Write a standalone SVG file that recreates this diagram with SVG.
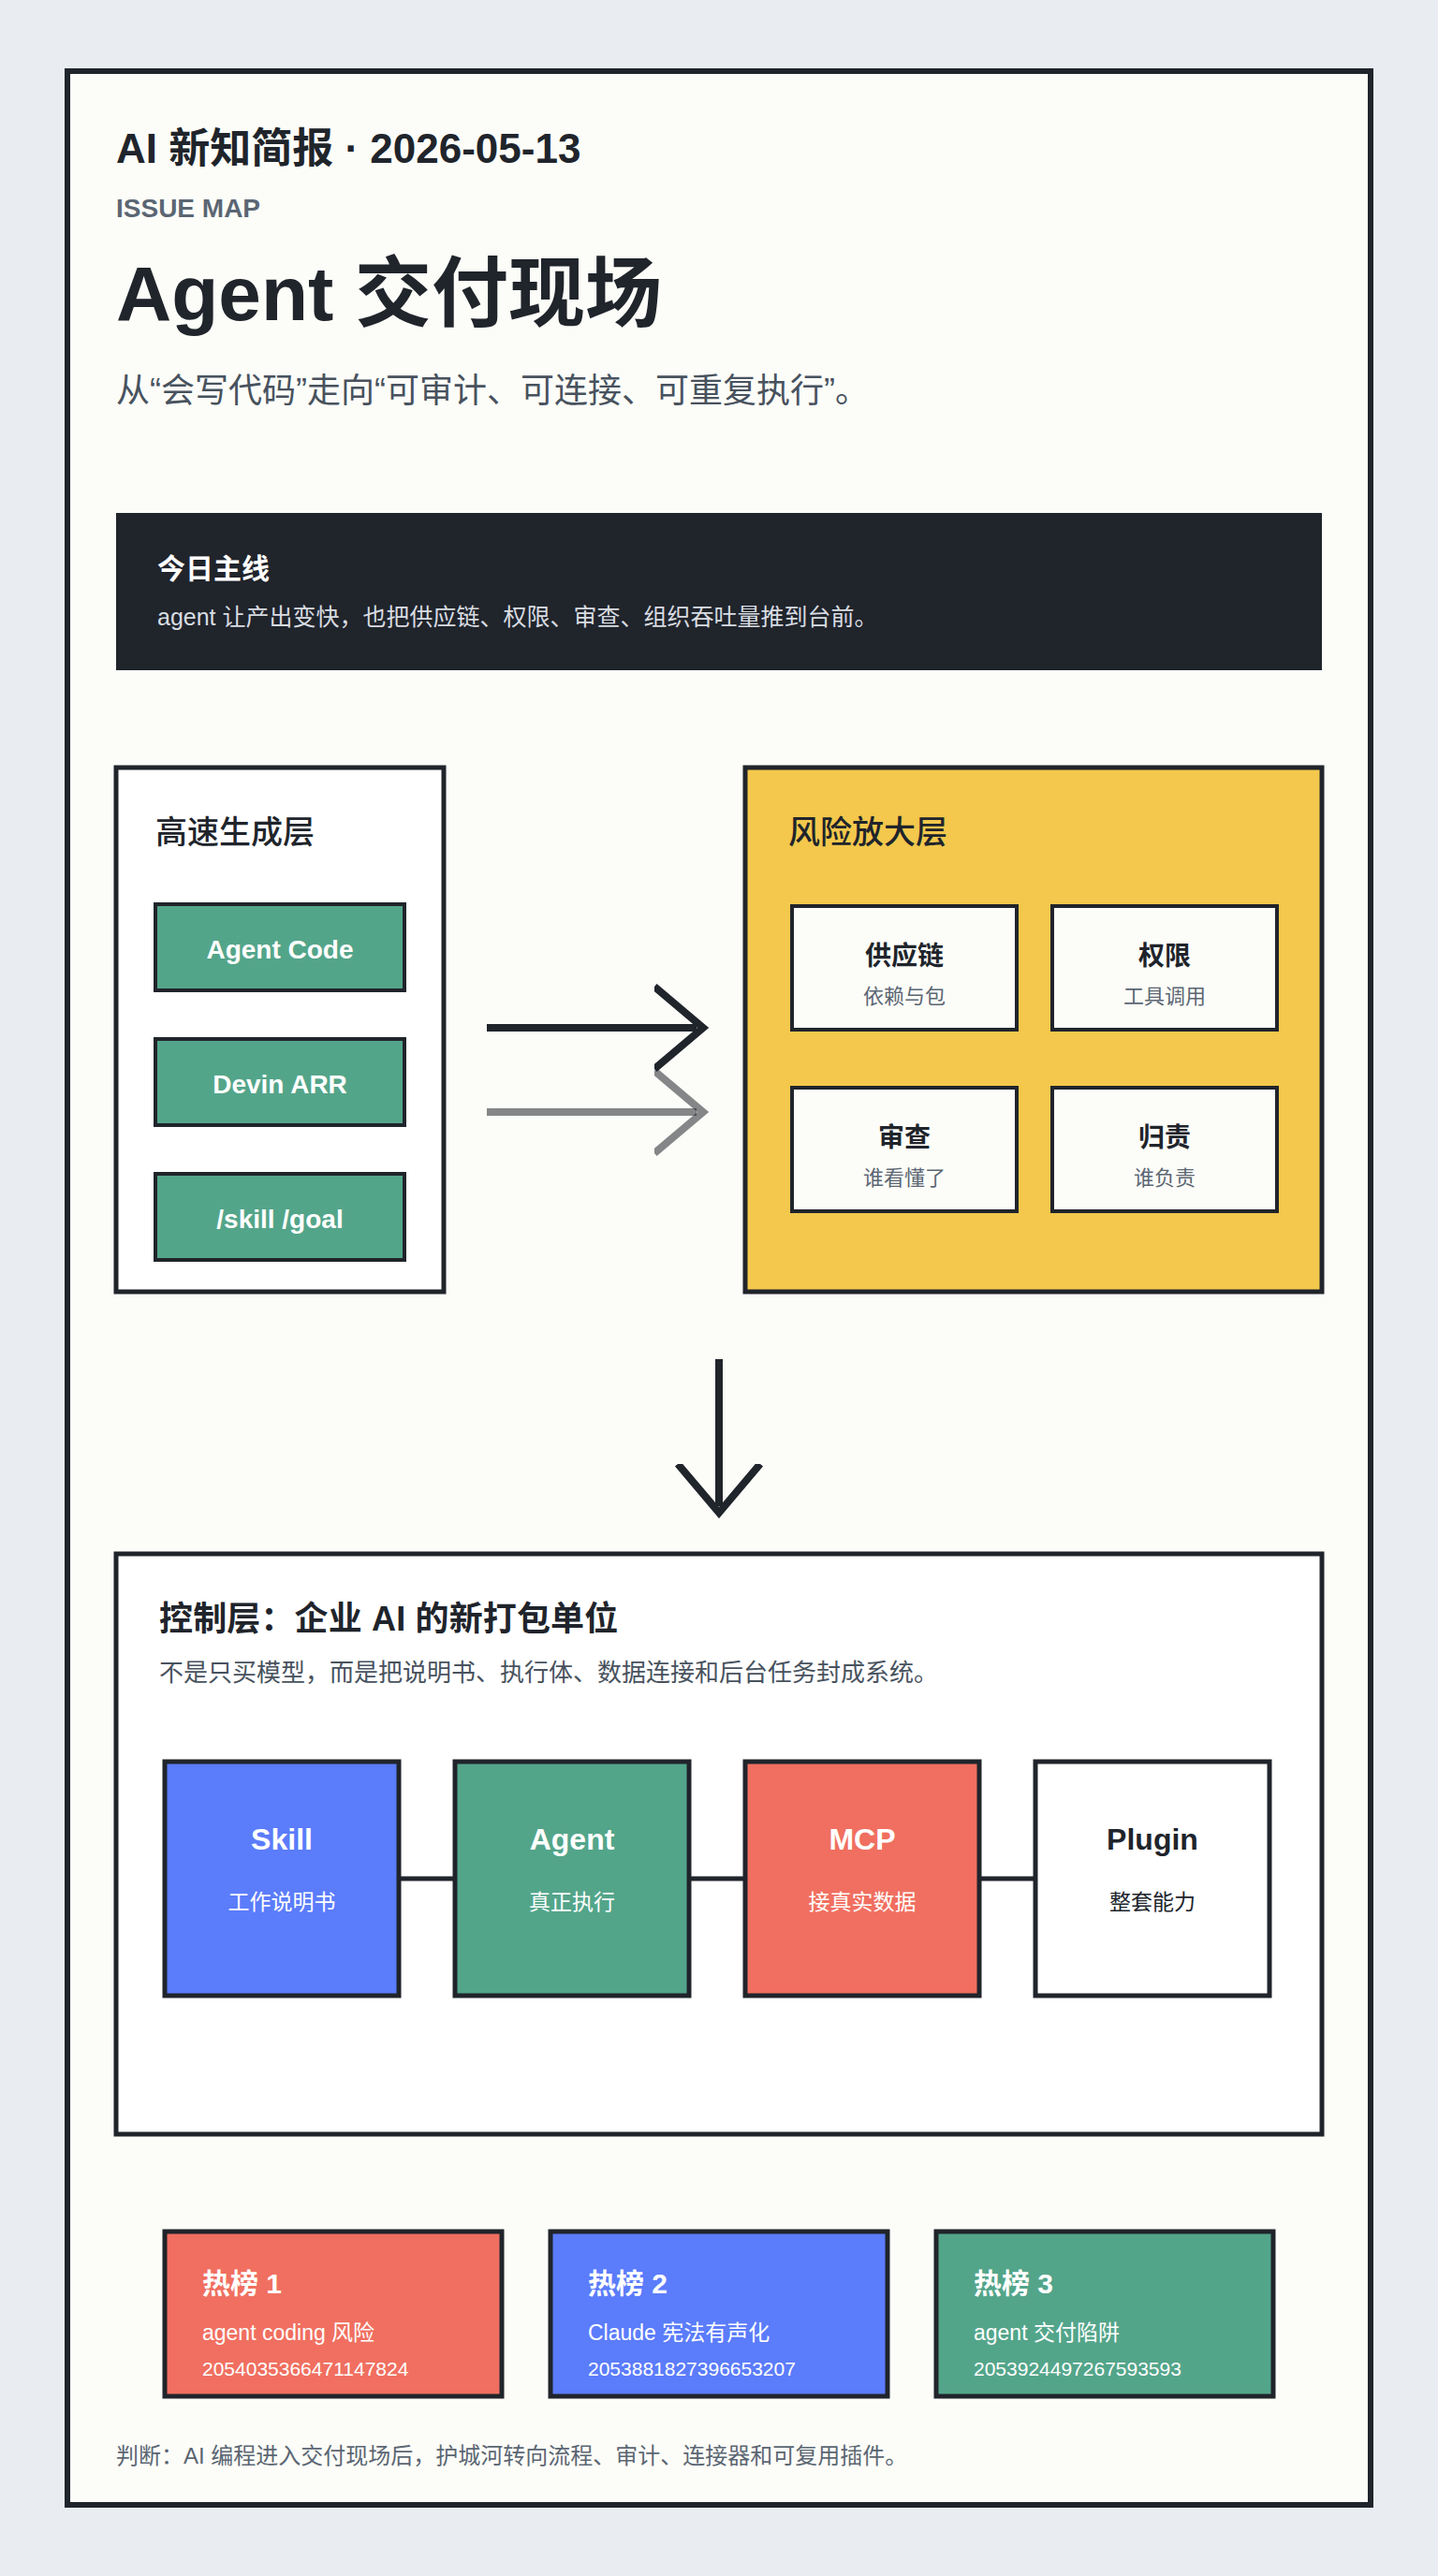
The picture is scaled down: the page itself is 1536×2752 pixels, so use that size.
<svg xmlns="http://www.w3.org/2000/svg" width="1536" height="2752" viewBox="0 0 1536 2752">
<style>
text{font-family:"Liberation Sans","Noto Sans CJK SC",sans-serif;fill:#20242b}
.b{font-weight:700}.t{font-weight:500}.m{text-anchor:middle}.w{fill:#fff}
.box{stroke:#20242b;stroke-width:5}
.in{stroke:#20242b;stroke-width:4}
.g{fill:#53a58a}.y{fill:#f3c84c}.r{fill:#f06f60}.u{fill:#5b7cfb}.c{fill:#fcfdf8}.n{fill:#fff}
.s{fill:#5b6673}
.line{stroke:#20242b;stroke-width:5;fill:none}
.arrow{stroke:#20242b;stroke-width:8;fill:none}
.faint{stroke-opacity:.55}
</style>
<defs>
<marker id="ah" markerUnits="userSpaceOnUse" markerWidth="70" markerHeight="110" refX="45" refY="50" orient="auto" viewBox="0 0 70 110">
<path class="arrow" d="M0 6L52 50L0 94"/>
</marker>
<marker id="ahf" markerUnits="userSpaceOnUse" markerWidth="70" markerHeight="110" refX="45" refY="50" orient="auto" viewBox="0 0 70 110">
<path class="arrow faint" d="M0 6L52 50L0 94"/>
</marker>
</defs>
<rect width="1536" height="2752" fill="#e9ecf1"/>
<rect id="page" x="72" y="76" width="1392" height="2600" fill="#fcfdf8" stroke="#20242b" stroke-width="6"/>
<g id="header">
<text class="b" x="124" y="174" font-size="44">AI 新知简报 · 2026-05-13</text>
<text class="b s" x="124" y="232" font-size="28">ISSUE MAP</text>
<text class="b" x="124" y="342" font-size="82">Agent 交付现场</text>
<text x="124" y="430" font-size="36" style="fill:#48525e">从“会写代码”走向“可审计、可连接、可重复执行”。</text>
</g>
<g id="banner">
<rect x="124" y="548" width="1288" height="168" fill="#20242b"/>
<text class="b w" x="168" y="618" font-size="30">今日主线</text>
<text x="168" y="668" font-size="25" style="fill:#d8dce2">agent 让产出变快，也把供应链、权限、审查、组织吞吐量推到台前。</text>
</g>
<g id="layer-fast">
<rect class="box n" x="124" y="820" width="350" height="560"/>
<text class="t" x="166" y="901" font-size="34">高速生成层</text>
</g>
<g id="node-agent-code"><rect class="in g" x="166" y="966" width="266" height="92"/><text class="b m w" x="299" y="1024" font-size="28">Agent Code</text></g>
<g id="node-devin"><rect class="in g" x="166" y="1110" width="266" height="92"/><text class="b m w" x="299" y="1168" font-size="28">Devin ARR</text></g>
<g id="node-skill-goal"><rect class="in g" x="166" y="1254" width="266" height="92"/><text class="b m w" x="299" y="1312" font-size="28">/skill /goal</text></g>
<g id="layer-risk">
<rect class="box y" x="796" y="820" width="616" height="560"/>
<text class="t" x="842" y="901" font-size="34">风险放大层</text>
</g>
<g id="risk-supply"><rect class="in c" x="846" y="968" width="240" height="132"/><text class="b m" x="966" y="1031" font-size="28">供应链</text><text class="m s" x="966" y="1072" font-size="22">依赖与包</text></g>
<g id="risk-perm"><rect class="in c" x="1124" y="968" width="240" height="132"/><text class="b m" x="1244" y="1031" font-size="28">权限</text><text class="m s" x="1244" y="1072" font-size="22">工具调用</text></g>
<g id="risk-review"><rect class="in c" x="846" y="1162" width="240" height="132"/><text class="b m" x="966" y="1225" font-size="28">审查</text><text class="m s" x="966" y="1266" font-size="22">谁看懂了</text></g>
<g id="risk-owner"><rect class="in c" x="1124" y="1162" width="240" height="132"/><text class="b m" x="1244" y="1225" font-size="28">归责</text><text class="m s" x="1244" y="1266" font-size="22">谁负责</text></g>
<g id="layer-control">
<rect class="box n" x="124" y="1660" width="1288" height="620"/>
<text class="b" x="170" y="1742" font-size="36" letter-spacing=".15">控制层：企业 AI 的新打包单位</text>
<text x="170" y="1796" font-size="26" style="fill:#48525e">不是只买模型，而是把说明书、执行体、数据连接和后台任务封成系统。</text>
</g>
<g id="ctl-skill"><rect class="box u" x="176" y="1882" width="250" height="250"/><text class="b m w" x="301" y="1976" font-size="32">Skill</text><text class="m w" x="301" y="2040" font-size="23">工作说明书</text></g>
<g id="ctl-agent"><rect class="box g" x="486" y="1882" width="250" height="250"/><text class="b m w" x="611" y="1976" font-size="32">Agent</text><text class="m w" x="611" y="2040" font-size="23">真正执行</text></g>
<g id="ctl-mcp"><rect class="box r" x="796" y="1882" width="250" height="250"/><text class="b m w" x="921" y="1976" font-size="32">MCP</text><text class="m w" x="921" y="2040" font-size="23">接真实数据</text></g>
<g id="ctl-plugin"><rect class="box n" x="1106" y="1882" width="250" height="250"/><text class="b m" x="1231" y="1976" font-size="32">Plugin</text><text class="m" x="1231" y="2040" font-size="23">整套能力</text></g>
<g id="hot-1"><rect class="box r" x="176" y="2384" width="360" height="176"/><text class="b w" x="216" y="2450" font-size="30">热榜 1</text><text class="w" x="216" y="2500" font-size="23">agent coding 风险</text><text class="w" x="216" y="2538" font-size="21">2054035366471147824</text></g>
<g id="hot-2"><rect class="box u" x="588" y="2384" width="360" height="176"/><text class="b w" x="628" y="2450" font-size="30">热榜 2</text><text class="w" x="628" y="2500" font-size="23">Claude 宪法有声化</text><text class="w" x="628" y="2538" font-size="21">2053881827396653207</text></g>
<g id="hot-3"><rect class="box g" x="1000" y="2384" width="360" height="176"/><text class="b w" x="1040" y="2450" font-size="30">热榜 3</text><text class="w" x="1040" y="2500" font-size="23">agent 交付陷阱</text><text class="w" x="1040" y="2538" font-size="21">2053924497267593593</text></g>
<g id="footer"><text class="s" x="124" y="2632" font-size="24">判断：AI 编程进入交付现场后，护城河转向流程、审计、连接器和可复用插件。</text></g>
<g id="connectors">
<path class="arrow" d="M520 1098H744" marker-end="url(#ah)"/>
<path class="arrow faint" d="M520 1188H744" marker-end="url(#ahf)"/>
<path class="arrow" d="M768 1452V1609" marker-end="url(#ah)"/>
<path class="line" d="M426 2007H486"/>
<path class="line" d="M736 2007H796"/>
<path class="line" d="M1046 2007H1106"/>
</g>
</svg>
